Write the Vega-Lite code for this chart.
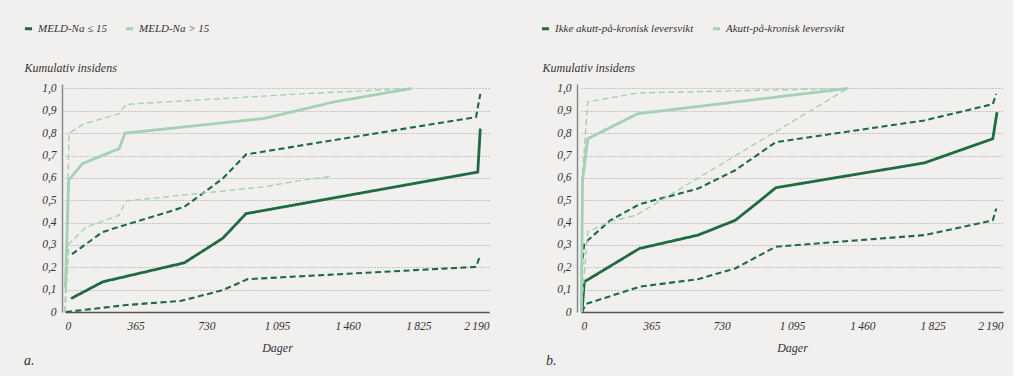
{
  "$schema": "https://vega.github.io/schema/vega-lite/v6.json",
  "background": "#f2f0ef",
  "padding": {"left": 23, "top": 23, "right": 10, "bottom": 8},
  "autosize": {"type": "pad"},
  "spacing": 92,
  "bounds": "flush",
  "datasets": {
    "a": [
      {"g": "MELD-Na ≤ 15", "k": "est", "day": 31, "v": 0.06},
      {"g": "MELD-Na ≤ 15", "k": "est", "day": 195, "v": 0.135},
      {"g": "MELD-Na ≤ 15", "k": "est", "day": 616, "v": 0.22},
      {"g": "MELD-Na ≤ 15", "k": "est", "day": 815, "v": 0.33},
      {"g": "MELD-Na ≤ 15", "k": "est", "day": 935, "v": 0.44},
      {"g": "MELD-Na ≤ 15", "k": "est", "day": 2132, "v": 0.626},
      {"g": "MELD-Na ≤ 15", "k": "est", "day": 2145, "v": 0.82},
      {"g": "MELD-Na ≤ 15", "k": "lo", "day": 5, "v": 0.0},
      {"g": "MELD-Na ≤ 15", "k": "lo", "day": 315, "v": 0.031},
      {"g": "MELD-Na ≤ 15", "k": "lo", "day": 600, "v": 0.05},
      {"g": "MELD-Na ≤ 15", "k": "lo", "day": 815, "v": 0.098},
      {"g": "MELD-Na ≤ 15", "k": "lo", "day": 944, "v": 0.147},
      {"g": "MELD-Na ≤ 15", "k": "lo", "day": 2123, "v": 0.202},
      {"g": "MELD-Na ≤ 15", "k": "lo", "day": 2145, "v": 0.254},
      {"g": "MELD-Na ≤ 15", "k": "hi", "day": 36, "v": 0.259},
      {"g": "MELD-Na ≤ 15", "k": "hi", "day": 195, "v": 0.358},
      {"g": "MELD-Na ≤ 15", "k": "hi", "day": 306, "v": 0.388},
      {"g": "MELD-Na ≤ 15", "k": "hi", "day": 616, "v": 0.47},
      {"g": "MELD-Na ≤ 15", "k": "hi", "day": 815, "v": 0.597},
      {"g": "MELD-Na ≤ 15", "k": "hi", "day": 935, "v": 0.705},
      {"g": "MELD-Na ≤ 15", "k": "hi", "day": 2123, "v": 0.872},
      {"g": "MELD-Na ≤ 15", "k": "hi", "day": 2145, "v": 0.976},
      {"g": "MELD-Na > 15", "k": "est", "day": 2, "v": 0.11},
      {"g": "MELD-Na > 15", "k": "est", "day": 19, "v": 0.59},
      {"g": "MELD-Na > 15", "k": "est", "day": 91, "v": 0.664},
      {"g": "MELD-Na > 15", "k": "est", "day": 280, "v": 0.731},
      {"g": "MELD-Na > 15", "k": "est", "day": 310, "v": 0.8},
      {"g": "MELD-Na > 15", "k": "est", "day": 1029, "v": 0.866},
      {"g": "MELD-Na > 15", "k": "est", "day": 1390, "v": 0.94},
      {"g": "MELD-Na > 15", "k": "est", "day": 1790, "v": 1.0},
      {"g": "MELD-Na > 15", "k": "hi", "day": 0, "v": 0.0},
      {"g": "MELD-Na > 15", "k": "hi", "day": 3, "v": 0.13},
      {"g": "MELD-Na > 15", "k": "hi", "day": 21, "v": 0.8},
      {"g": "MELD-Na > 15", "k": "hi", "day": 100, "v": 0.842},
      {"g": "MELD-Na > 15", "k": "hi", "day": 280, "v": 0.887},
      {"g": "MELD-Na > 15", "k": "hi", "day": 315, "v": 0.929},
      {"g": "MELD-Na > 15", "k": "hi", "day": 1219, "v": 0.976},
      {"g": "MELD-Na > 15", "k": "hi", "day": 1790, "v": 1.0},
      {"g": "MELD-Na > 15", "k": "lo", "day": 0, "v": 0.0},
      {"g": "MELD-Na > 15", "k": "lo", "day": 21, "v": 0.305},
      {"g": "MELD-Na > 15", "k": "lo", "day": 108, "v": 0.38},
      {"g": "MELD-Na > 15", "k": "lo", "day": 280, "v": 0.433},
      {"g": "MELD-Na > 15", "k": "lo", "day": 315, "v": 0.497},
      {"g": "MELD-Na > 15", "k": "lo", "day": 1029, "v": 0.56},
      {"g": "MELD-Na > 15", "k": "lo", "day": 1219, "v": 0.589},
      {"g": "MELD-Na > 15", "k": "lo", "day": 1383, "v": 0.607}
    ],
    "b": [
      {"g": "Ikke akutt-på-kronisk leversvikt", "k": "est", "day": 5, "v": 0.0},
      {"g": "Ikke akutt-på-kronisk leversvikt", "k": "est", "day": 17, "v": 0.135},
      {"g": "Ikke akutt-på-kronisk leversvikt", "k": "est", "day": 303, "v": 0.284},
      {"g": "Ikke akutt-på-kronisk leversvikt", "k": "est", "day": 607, "v": 0.344},
      {"g": "Ikke akutt-på-kronisk leversvikt", "k": "est", "day": 800, "v": 0.41},
      {"g": "Ikke akutt-på-kronisk leversvikt", "k": "est", "day": 910, "v": 0.485},
      {"g": "Ikke akutt-på-kronisk leversvikt", "k": "est", "day": 1011, "v": 0.556},
      {"g": "Ikke akutt-på-kronisk leversvikt", "k": "est", "day": 1782, "v": 0.667},
      {"g": "Ikke akutt-på-kronisk leversvikt", "k": "est", "day": 2137, "v": 0.775},
      {"g": "Ikke akutt-på-kronisk leversvikt", "k": "est", "day": 2159, "v": 0.894},
      {"g": "Ikke akutt-på-kronisk leversvikt", "k": "hi", "day": 4, "v": 0.195},
      {"g": "Ikke akutt-på-kronisk leversvikt", "k": "hi", "day": 17, "v": 0.307},
      {"g": "Ikke akutt-på-kronisk leversvikt", "k": "hi", "day": 152, "v": 0.41},
      {"g": "Ikke akutt-på-kronisk leversvikt", "k": "hi", "day": 303, "v": 0.482},
      {"g": "Ikke akutt-på-kronisk leversvikt", "k": "hi", "day": 607, "v": 0.552},
      {"g": "Ikke akutt-på-kronisk leversvikt", "k": "hi", "day": 800, "v": 0.634},
      {"g": "Ikke akutt-på-kronisk leversvikt", "k": "hi", "day": 1011, "v": 0.76},
      {"g": "Ikke akutt-på-kronisk leversvikt", "k": "hi", "day": 1782, "v": 0.857},
      {"g": "Ikke akutt-på-kronisk leversvikt", "k": "hi", "day": 2137, "v": 0.93},
      {"g": "Ikke akutt-på-kronisk leversvikt", "k": "hi", "day": 2155, "v": 0.976},
      {"g": "Ikke akutt-på-kronisk leversvikt", "k": "lo", "day": 5, "v": 0.0},
      {"g": "Ikke akutt-på-kronisk leversvikt", "k": "lo", "day": 26, "v": 0.036},
      {"g": "Ikke akutt-på-kronisk leversvikt", "k": "lo", "day": 303, "v": 0.113},
      {"g": "Ikke akutt-på-kronisk leversvikt", "k": "lo", "day": 607, "v": 0.147},
      {"g": "Ikke akutt-på-kronisk leversvikt", "k": "lo", "day": 800, "v": 0.195},
      {"g": "Ikke akutt-på-kronisk leversvikt", "k": "lo", "day": 1011, "v": 0.292},
      {"g": "Ikke akutt-på-kronisk leversvikt", "k": "lo", "day": 1782, "v": 0.344},
      {"g": "Ikke akutt-på-kronisk leversvikt", "k": "lo", "day": 2137, "v": 0.41},
      {"g": "Ikke akutt-på-kronisk leversvikt", "k": "lo", "day": 2155, "v": 0.463},
      {"g": "Akutt-på-kronisk leversvikt", "k": "est", "day": 2, "v": 0.0},
      {"g": "Akutt-på-kronisk leversvikt", "k": "est", "day": 8, "v": 0.59},
      {"g": "Akutt-på-kronisk leversvikt", "k": "est", "day": 35, "v": 0.775},
      {"g": "Akutt-på-kronisk leversvikt", "k": "est", "day": 294, "v": 0.887},
      {"g": "Akutt-på-kronisk leversvikt", "k": "est", "day": 1384, "v": 1.0},
      {"g": "Akutt-på-kronisk leversvikt", "k": "hi", "day": 1, "v": 0.03},
      {"g": "Akutt-på-kronisk leversvikt", "k": "hi", "day": 8, "v": 0.62},
      {"g": "Akutt-på-kronisk leversvikt", "k": "hi", "day": 35, "v": 0.94},
      {"g": "Akutt-på-kronisk leversvikt", "k": "hi", "day": 294, "v": 0.98},
      {"g": "Akutt-på-kronisk leversvikt", "k": "hi", "day": 1100, "v": 0.995},
      {"g": "Akutt-på-kronisk leversvikt", "k": "hi", "day": 1384, "v": 1.0},
      {"g": "Akutt-på-kronisk leversvikt", "k": "lo", "day": 1, "v": 0.0},
      {"g": "Akutt-på-kronisk leversvikt", "k": "lo", "day": 35, "v": 0.358},
      {"g": "Akutt-på-kronisk leversvikt", "k": "lo", "day": 147, "v": 0.403},
      {"g": "Akutt-på-kronisk leversvikt", "k": "lo", "day": 286, "v": 0.433},
      {"g": "Akutt-på-kronisk leversvikt", "k": "lo", "day": 1384, "v": 1.0}
    ]
  },
  "config": {
    "font": "Liberation Serif",
    "view": {"stroke": null},
    "axis": {
      "labelFont": "Liberation Serif",
      "labelFontStyle": "italic",
      "labelFontSize": 11.5,
      "labelColor": "#333333",
      "titleFont": "Liberation Serif",
      "titleFontStyle": "italic",
      "titleFontWeight": "normal",
      "titleFontSize": 12,
      "titleColor": "#333333",
      "ticks": false,
      "tickSize": 0
    },
    "legend": {
      "labelFont": "Liberation Serif",
      "labelFontStyle": "italic",
      "labelFontSize": 11,
      "labelColor": "#333333",
      "symbolType": "stroke",
      "symbolSize": 50,
      "symbolStrokeWidth": 3,
      "symbolDash": [20, 0],
      "labelOffset": 4,
      "columnPadding": 12,
      "padding": 0
    },
    "title": {
      "font": "Liberation Serif",
      "fontStyle": "italic",
      "fontWeight": "normal",
      "fontSize": 14,
      "color": "#333333"
    }
  },
  "hconcat": [
    {
      "width": 424,
      "height": 228,
      "data": {"name": "a"},
      "title": {"text": "a.", "orient": "bottom", "anchor": "start", "frame": "group", "dx": -41, "offset": 0},
      "mark": {"type": "line", "strokeCap": "butt"},
      "encoding": {
        "x": {
          "field": "day", "type": "quantitative",
          "scale": {"domain": [0, 2190], "nice": false, "zero": false},
          "axis": {
            "values": [0, 365, 730, 1095, 1460, 1825, 2190],
            "title": "Dager",
            "labelExpr": "datum.value >= 1000 ? floor(datum.value/1000) + '\u2009' + slice(format(datum.value % 1000 + 1000, 'd'), 1) : format(datum.value, 'd')",
            "labelPadding": 8,
            "titlePadding": 11,
            "grid": false,
            "domainColor": "#555555",
            "domainWidth": 1.5
          }
        },
        "y": {
          "field": "v", "type": "quantitative",
          "scale": {"domain": [0, 1.02], "nice": false},
          "axis": {
            "values": [0, 0.1, 0.2, 0.3, 0.4, 0.5, 0.6, 0.7, 0.8, 0.9, 1.0],
            "title": "Kumulativ insidens",
            "titleAngle": 0,
            "titleAlign": "left",
            "titleBaseline": "middle",
            "titleX": -38,
            "titleY": -17,
            "labelExpr": "datum.value == 0 ? '0' : replace(format(datum.value, '.1f'), '.', ',')",
            "labelPadding": 6,
            "offset": 3,
            "grid": true,
            "gridColor": "#9a9a9a",
            "gridDash": [1, 2],
            "gridWidth": 1,
            "domainColor": "#888888",
            "domainWidth": 1.5
          }
        },
        "color": {
          "field": "g", "type": "nominal",
          "scale": {"domain": ["MELD-Na ≤ 15", "MELD-Na > 15"], "range": ["#1d6b3e", "#a3d1b4"]},
          "legend": {"orient": "none", "legendX": -42, "legendY": -61, "direction": "horizontal", "title": null, "symbolDash": [20, 0]}
        },
        "strokeDash": {
          "field": "k", "type": "nominal",
          "scale": {"domain": ["est", "lo", "hi"], "range": [[1, 0], [6, 3.5], [6, 3.5]]},
          "legend": null
        },
        "strokeWidth": {
          "condition": [
            {"test": "datum.k == 'est'", "value": 2.8},
            {"test": "datum.g == 'MELD-Na > 15'", "value": 1.4}
          ],
          "value": 2.1
        }
      }
    },
    {
      "width": 422,
      "height": 228,
      "data": {"name": "b"},
      "title": {"text": "b.", "orient": "bottom", "anchor": "start", "frame": "group", "dx": -35, "offset": 0},
      "mark": {"type": "line", "strokeCap": "butt"},
      "encoding": {
        "x": {
          "field": "day", "type": "quantitative",
          "scale": {"domain": [0, 2190], "nice": false, "zero": false},
          "axis": {
            "values": [0, 365, 730, 1095, 1460, 1825, 2190],
            "title": "Dager",
            "labelExpr": "datum.value >= 1000 ? floor(datum.value/1000) + '\u2009' + slice(format(datum.value % 1000 + 1000, 'd'), 1) : format(datum.value, 'd')",
            "labelPadding": 8,
            "titlePadding": 11,
            "grid": false,
            "domainColor": "#555555",
            "domainWidth": 1.5
          }
        },
        "y": {
          "field": "v", "type": "quantitative",
          "scale": {"domain": [0, 1.02], "nice": false},
          "axis": {
            "values": [0, 0.1, 0.2, 0.3, 0.4, 0.5, 0.6, 0.7, 0.8, 0.9, 1.0],
            "title": "Kumulativ insidens",
            "titleAngle": 0,
            "titleAlign": "left",
            "titleBaseline": "middle",
            "titleX": -35,
            "titleY": -17,
            "labelExpr": "datum.value == 0 ? '0' : replace(format(datum.value, '.1f'), '.', ',')",
            "labelPadding": 6,
            "offset": 4,
            "grid": true,
            "gridColor": "#9a9a9a",
            "gridDash": [1, 2],
            "gridWidth": 1,
            "domainColor": "#888888",
            "domainWidth": 1.5
          }
        },
        "color": {
          "field": "g", "type": "nominal",
          "scale": {"domain": ["Ikke akutt-på-kronisk leversvikt", "Akutt-på-kronisk leversvikt"], "range": ["#1d6b3e", "#a3d1b4"]},
          "legend": {"orient": "none", "legendX": -41, "legendY": -61, "direction": "horizontal", "title": null, "symbolDash": [20, 0]}
        },
        "strokeDash": {
          "field": "k", "type": "nominal",
          "scale": {"domain": ["est", "lo", "hi"], "range": [[1, 0], [6, 3.5], [6, 3.5]]},
          "legend": null
        },
        "strokeWidth": {
          "condition": [
            {"test": "datum.k == 'est'", "value": 2.8},
            {"test": "datum.g == 'Akutt-på-kronisk leversvikt'", "value": 1.4}
          ],
          "value": 2.1
        }
      }
    }
  ],
  "resolve": {"scale": {"color": "independent", "strokeDash": "independent", "x": "independent", "y": "independent"}}
}
